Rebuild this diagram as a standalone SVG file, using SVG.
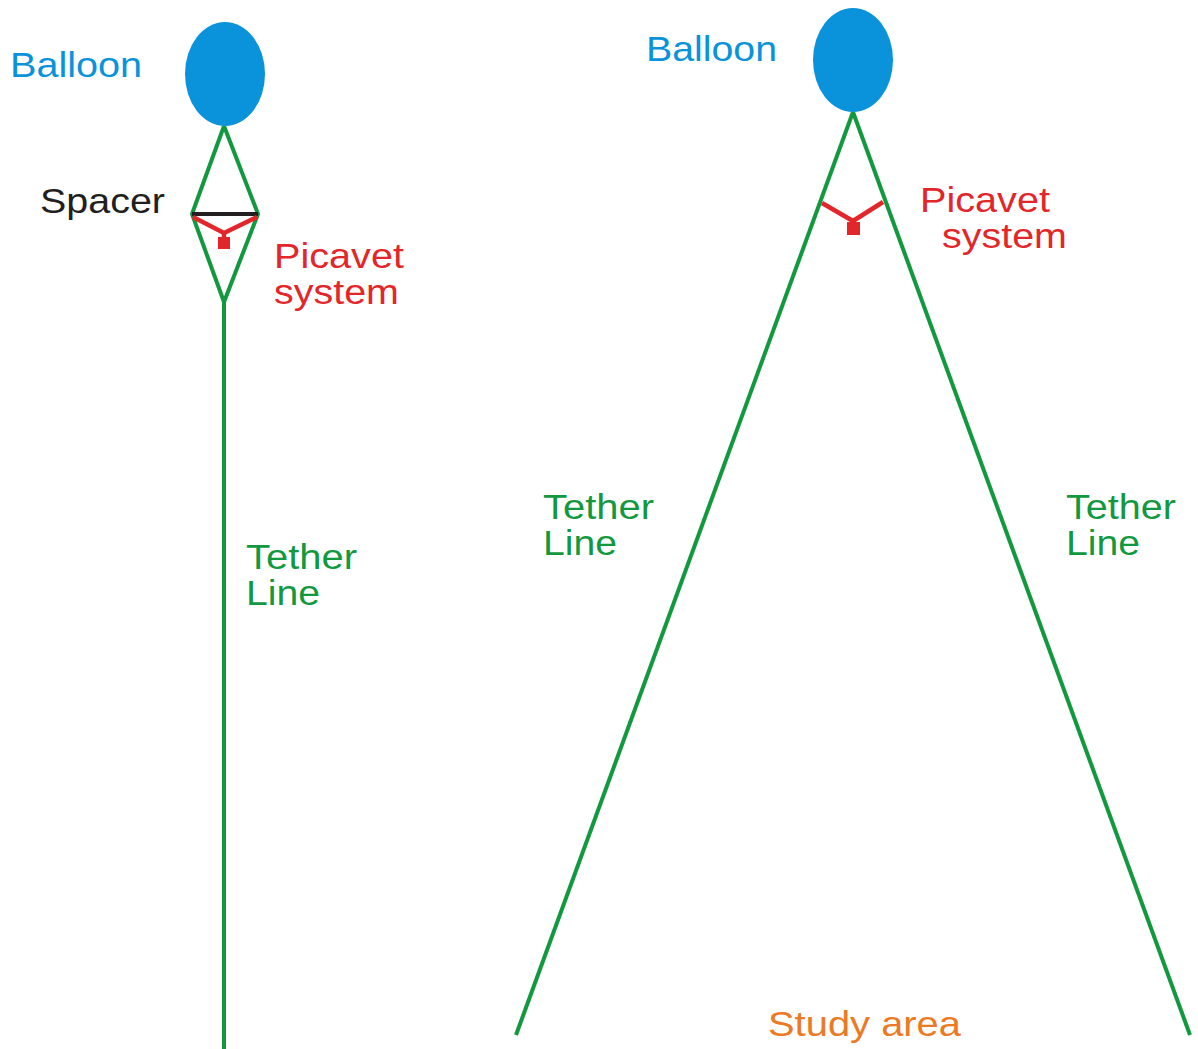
<svg xmlns="http://www.w3.org/2000/svg" width="1198" height="1049" viewBox="0 0 1198 1049">
<style>
text { font-family: "Liberation Sans", Arial, sans-serif; font-size: 35px; }
.blue { fill: #0a93db; }
.red { fill: #e3262a; }
.green { fill: #12993f; }
.black { fill: #231f20; }
.orange { fill: #ec7a24; }
.tether { stroke: #12993f; stroke-width: 4; fill: none; stroke-linejoin: miter; }
.pic { stroke: #e3262a; stroke-width: 4.5; fill: none; }
</style>
<rect width="1198" height="1049" fill="#ffffff"/>
<g id="connectors">
  <polyline class="tether" points="224,126 192,214 224,302 258,214 224,126"/>
  <line class="tether" x1="224" y1="302" x2="224" y2="1049"/>
  <line class="tether" x1="853" y1="112" x2="516" y2="1035"/>
  <line class="tether" x1="853" y1="112" x2="1190" y2="1035"/>
</g>
<g id="balloon-left">
  <ellipse cx="225" cy="74" rx="40" ry="52" fill="#0a93db"/>
  <text class="blue" x="10" y="77" textLength="132" lengthAdjust="spacingAndGlyphs">Balloon</text>
</g>
<g id="spacer">
  <line x1="192" y1="214" x2="258" y2="214" stroke="#231f20" stroke-width="4"/>
  <text class="black" x="40" y="213" textLength="125" lengthAdjust="spacingAndGlyphs">Spacer</text>
</g>
<g id="picavet-left">
  <polyline class="pic" points="193,217 224,233 257,217"/>
  <line class="pic" x1="224" y1="233" x2="224" y2="240"/>
  <rect x="218" y="237" width="12" height="12" fill="#e3262a"/>
  <text class="red" x="274" y="268" textLength="130" lengthAdjust="spacingAndGlyphs">Picavet</text>
  <text class="red" x="274" y="304" textLength="125" lengthAdjust="spacingAndGlyphs">system</text>
</g>
<g id="tether-left-label">
  <text class="green" x="246" y="569" textLength="111" lengthAdjust="spacingAndGlyphs">Tether</text>
  <text class="green" x="246" y="605" textLength="74" lengthAdjust="spacingAndGlyphs">Line</text>
</g>
<g id="balloon-right">
  <ellipse cx="853" cy="60" rx="40" ry="52" fill="#0a93db"/>
  <text class="blue" x="646" y="61" textLength="131" lengthAdjust="spacingAndGlyphs">Balloon</text>
</g>
<g id="picavet-right">
  <polyline class="pic" points="822,203 853,221 883,202"/>
  <line class="pic" x1="853" y1="221" x2="853" y2="226"/>
  <rect x="847" y="222" width="13" height="13" fill="#e3262a"/>
  <text class="red" x="920" y="212" textLength="130" lengthAdjust="spacingAndGlyphs">Picavet</text>
  <text class="red" x="942" y="248" textLength="125" lengthAdjust="spacingAndGlyphs">system</text>
</g>
<g id="tether-mid-label">
  <text class="green" x="543" y="519" textLength="111" lengthAdjust="spacingAndGlyphs">Tether</text>
  <text class="green" x="543" y="555" textLength="74" lengthAdjust="spacingAndGlyphs">Line</text>
</g>
<g id="tether-right-label">
  <text class="green" x="1066" y="519" textLength="110" lengthAdjust="spacingAndGlyphs">Tether</text>
  <text class="green" x="1066" y="555" textLength="74" lengthAdjust="spacingAndGlyphs">Line</text>
</g>
<g id="study-area">
  <text class="orange" x="768" y="1036" textLength="193" lengthAdjust="spacingAndGlyphs">Study area</text>
</g>
</svg>
